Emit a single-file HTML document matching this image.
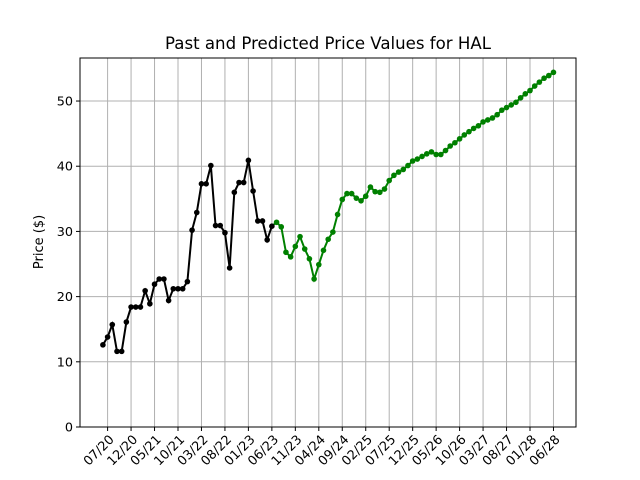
<!DOCTYPE html>
<html><head><meta charset="utf-8"><style>
body{margin:0;background:#fff;}
svg{display:block;font-family:"DejaVu Sans","Liberation Sans",sans-serif;}
</style></head><body>
<svg id="chart" width="640" height="480" viewBox="0 0 640 480" xmlns="http://www.w3.org/2000/svg">
<rect width="640" height="480" fill="#fff"/>
<text x="328" y="49" font-size="16.6" text-anchor="middle">Past and Predicted Price Values for HAL</text>
<text transform="translate(43,242) rotate(-90)" font-size="13" text-anchor="middle">Price ($)</text>
<g id="grid"></g><g id="series"></g><g id="axes"></g>
</svg>
<script>
const pastValues=[12.6,13.8,15.7,11.6,11.6,16.1,18.4,18.4,18.4,20.9,18.9,21.9,22.7,22.7,19.4,21.2,21.2,21.2,22.3,30.2,32.9,37.3,37.3,40.1,30.9,30.9,29.8,24.4,36.0,37.5,37.5,40.9,36.2,31.6,31.6,28.7,30.8];
const predValues=[31.4,30.7,26.8,26.1,27.7,29.2,27.3,25.8,22.7,24.9,27.1,28.8,29.9,32.6,34.9,35.8,35.8,35.1,34.7,35.4,36.8,36.1,36.0,36.5,37.8,38.6,39.1,39.5,40.1,40.8,41.1,41.5,41.9,42.2,41.8,41.8,42.4,43.1,43.6,44.2,44.8,45.3,45.8,46.2,46.8,47.1,47.4,47.9,48.6,49.0,49.4,49.8,50.5,51.1,51.6,52.3,52.9,53.5,53.9,54.4];
const xTickLabels=["07/20","12/20","05/21","10/21","03/22","08/22","01/23","06/23","11/23","04/24","09/24","02/25","07/25","12/25","05/26","10/26","03/27","08/27","01/28","06/28"];
const xTickMonths=[1,6,11,16,21,26,31,36,41,46,51,56,61,66,71,76,81,86,91,96];
const yTicks=[0,10,20,30,40,50];
const L=80,R=576,T=58,B=427;
const xMin=-4.88,xMax=100.8,yMin=0,yMax=56.6;
const xs=m=>L+(m-xMin)/(xMax-xMin)*(R-L);
const ys=v=>B-(v-yMin)/(yMax-yMin)*(B-T);
const NS="http://www.w3.org/2000/svg";
function mk(tag,attrs,parent){const e=document.createElementNS(NS,tag);for(const k in attrs)e.setAttribute(k,attrs[k]);parent.appendChild(e);return e;}
const grid=document.getElementById('grid'),series=document.getElementById('series'),axes=document.getElementById('axes');
xTickMonths.forEach((m,i)=>{
 const x=xs(m);
 const g=mk('line',{x1:x,x2:x,y1:T,y2:B,stroke:'#b0b0b0','stroke-width':1},grid);
 
 
 const t=mk('line',{x1:x,x2:x,y1:B,y2:B+4,stroke:'#000','stroke-width':1},axes);
 
 
 const lb=mk('text',{transform:`translate(${x+1},${B+7}) rotate(-45)`,'font-size':12.8,'text-anchor':'end','dominant-baseline':'hanging'},axes);
 lb.textContent=xTickLabels[i];
 
 
});
yTicks.forEach(v=>{
 const y=ys(v);
 const g=mk('line',{x1:L,x2:R,y1:y,y2:y,stroke:'#b0b0b0','stroke-width':1},grid);
 
 
 const t=mk('line',{x1:L-4,x2:L,y1:y,y2:y,stroke:'#000','stroke-width':1},axes);
 
 
 const lb=mk('text',{x:L-7,y:y+4.5,'font-size':12.8,'text-anchor':'end'},axes);
 lb.textContent=v;
 
 
});
const frame=mk('rect',{x:L,y:T,width:R-L,height:B-T,fill:'none',stroke:'#000','stroke-width':1},axes);


function drawSeries(vals,start,color,name){
 const pts=vals.map((v,i)=>[xs(start+i),ys(v)]);
 const pl=mk('polyline',{points:pts.map(p=>p.join(',')).join(' '),fill:'none',stroke:color,'stroke-width':2},series);
 
 
 pts.forEach(p=>{
  const c=mk('circle',{cx:p[0],cy:p[1],r:2.8,fill:color},series);
  
  
 });
}
const lastPast=pastValues.length-1;
const pl0=mk('line',{x1:xs(lastPast),y1:ys(pastValues[lastPast]),x2:xs(lastPast+1),y2:ys(predValues[0]),stroke:'green','stroke-width':2},series);


drawSeries(pastValues,0,'#000','past');
drawSeries(predValues,pastValues.length,'green','predicted');
</script>
</body></html>
